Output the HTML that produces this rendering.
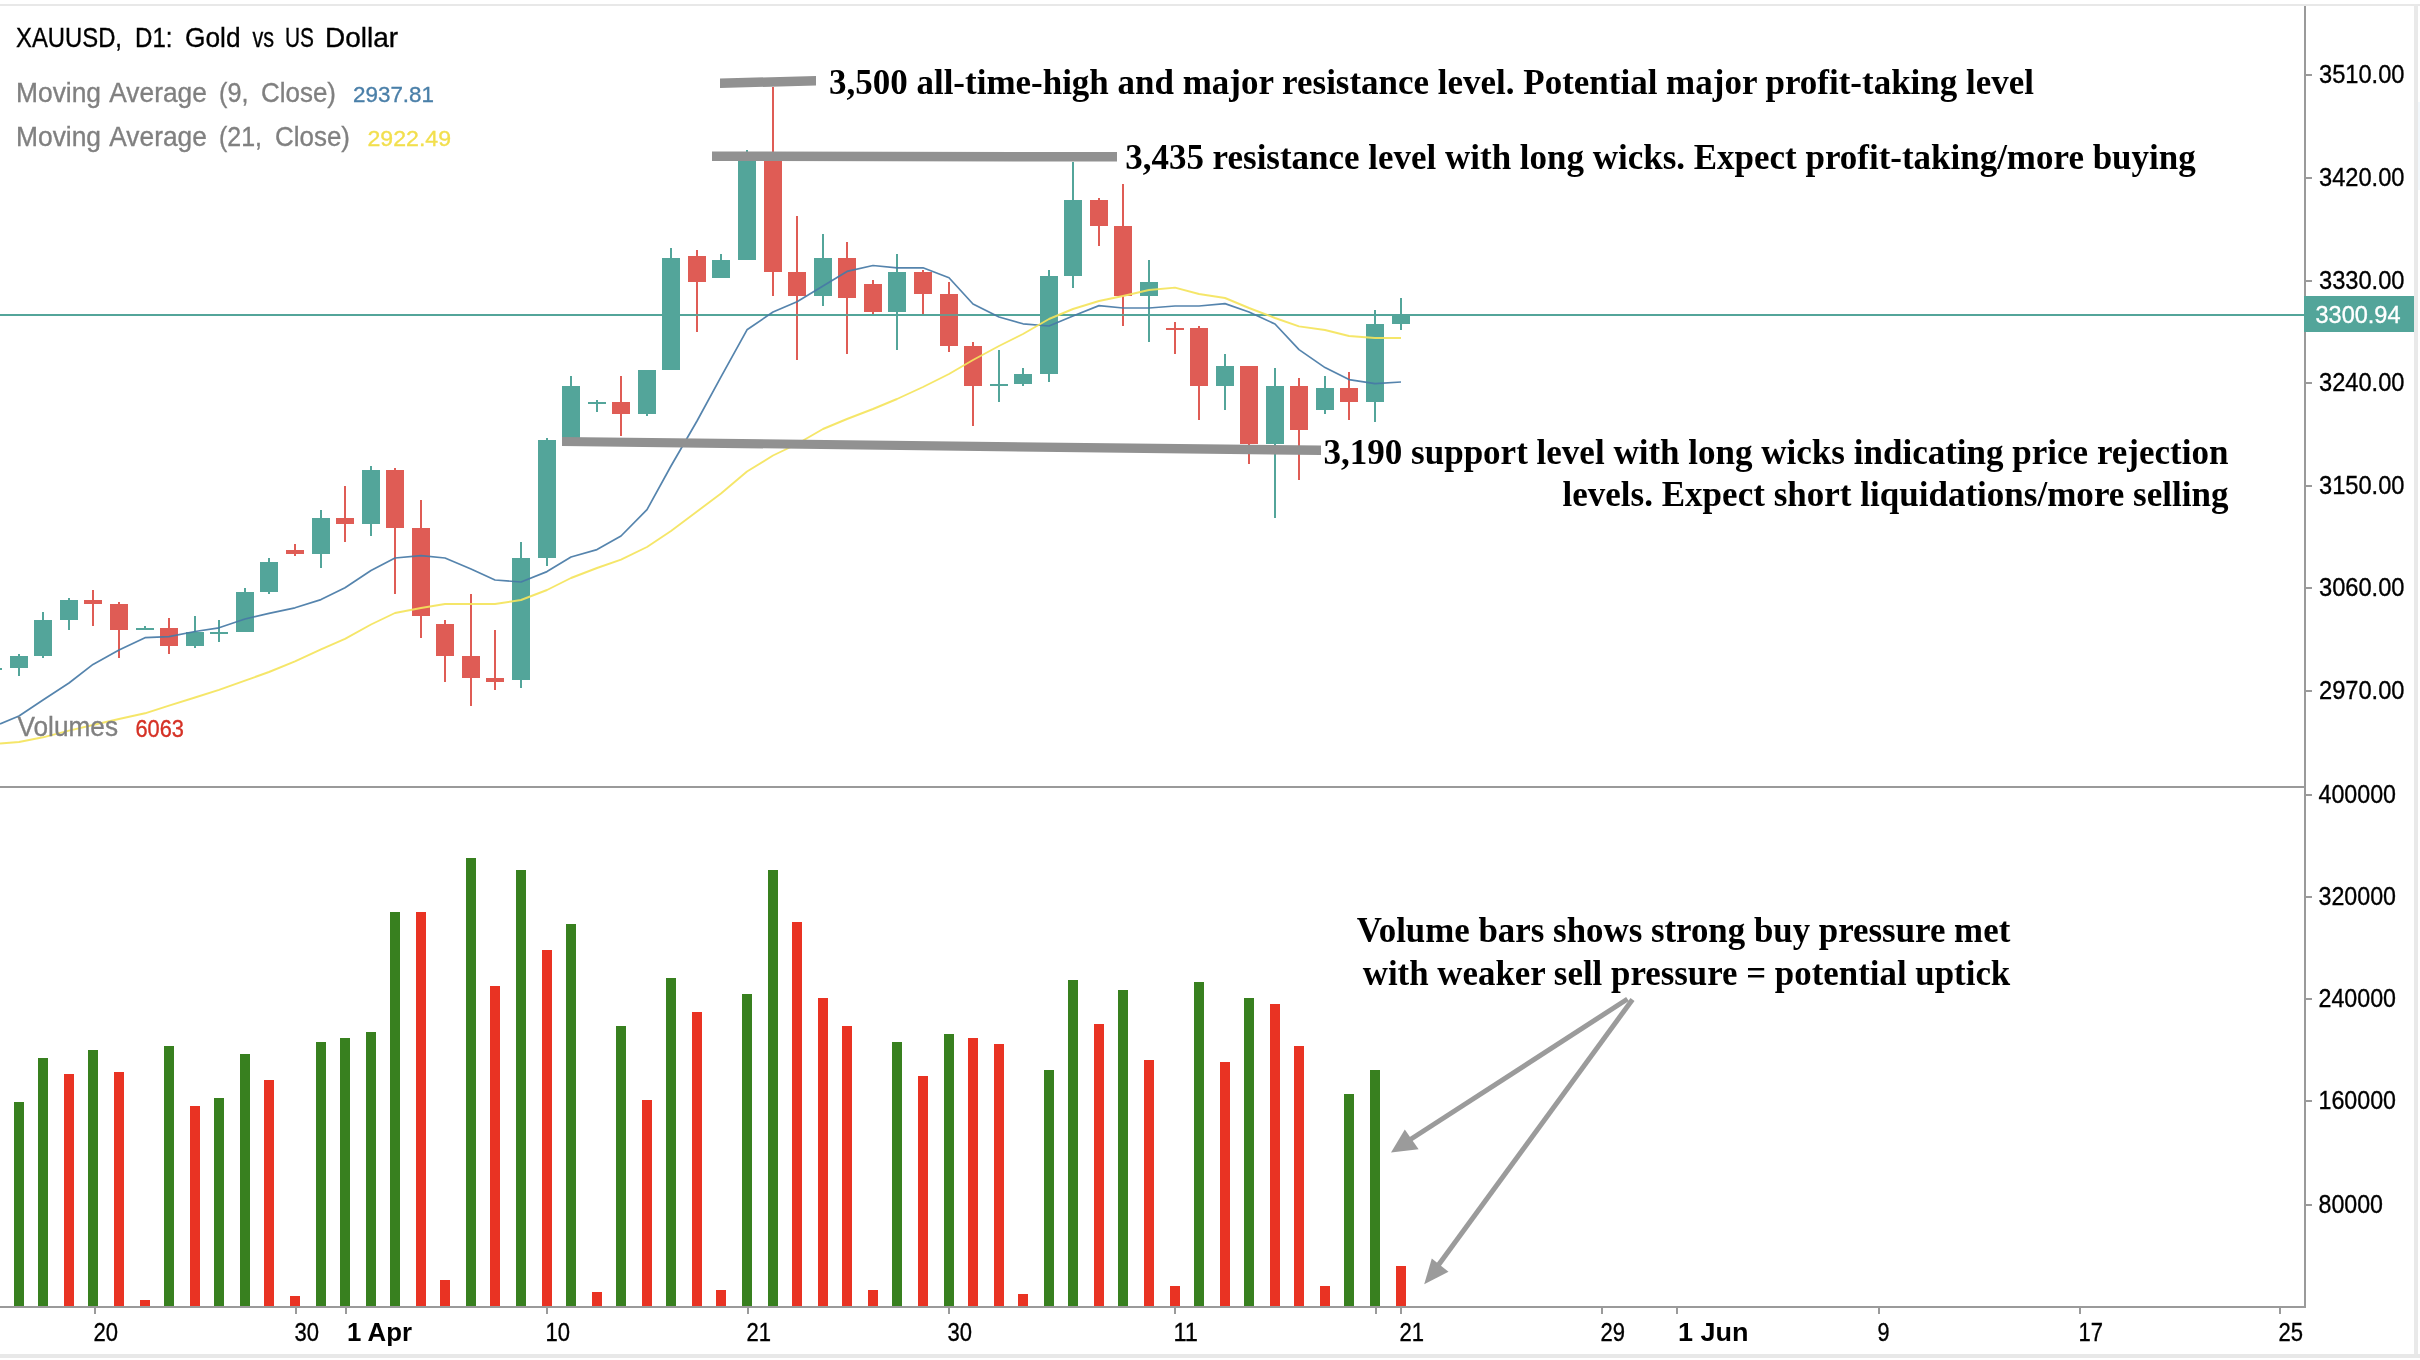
<!DOCTYPE html><html><head><meta charset="utf-8"><title>XAUUSD D1</title>
<style>html,body{margin:0;padding:0;background:#fff;}body{width:2420px;height:1360px;overflow:hidden;position:relative;font-family:"Liberation Sans",sans-serif;}svg{position:absolute;left:0;top:0;display:block;will-change:transform}text{font-family:"Liberation Sans",sans-serif}.ser{font-family:"Liberation Serif",serif;font-weight:bold}</style>
</head><body>
<svg width="2420" height="1360" viewBox="0 0 2420 1360" shape-rendering="crispEdges">
<rect x="0" y="0" width="2420" height="1360" fill="#ffffff"/>
<rect x="0" y="4" width="2420" height="2" fill="#e8e8e8"/>
<rect x="2414" y="4" width="4" height="1354" fill="#e9e9e9"/>
<rect x="0" y="1354" width="2420" height="4" fill="#e8e8e8"/>
<rect x="2418" y="102" width="2" height="88" fill="#f3f8fc"/>
<rect x="0" y="314" width="2304" height="2" fill="#53a59a"/>
<rect x="14" y="1102" width="10" height="204" fill="#38801f"/>
<rect x="38" y="1058" width="10" height="248" fill="#38801f"/>
<rect x="64" y="1074" width="10" height="232" fill="#e93323"/>
<rect x="88" y="1050" width="10" height="256" fill="#38801f"/>
<rect x="114" y="1072" width="10" height="234" fill="#e93323"/>
<rect x="140" y="1300" width="10" height="6" fill="#e93323"/>
<rect x="164" y="1046" width="10" height="260" fill="#38801f"/>
<rect x="190" y="1106" width="10" height="200" fill="#e93323"/>
<rect x="214" y="1098" width="10" height="208" fill="#38801f"/>
<rect x="240" y="1054" width="10" height="252" fill="#38801f"/>
<rect x="264" y="1080" width="10" height="226" fill="#e93323"/>
<rect x="290" y="1296" width="10" height="10" fill="#e93323"/>
<rect x="316" y="1042" width="10" height="264" fill="#38801f"/>
<rect x="340" y="1038" width="10" height="268" fill="#38801f"/>
<rect x="366" y="1032" width="10" height="274" fill="#38801f"/>
<rect x="390" y="912" width="10" height="394" fill="#38801f"/>
<rect x="416" y="912" width="10" height="394" fill="#e93323"/>
<rect x="440" y="1280" width="10" height="26" fill="#e93323"/>
<rect x="466" y="858" width="10" height="448" fill="#38801f"/>
<rect x="490" y="986" width="10" height="320" fill="#e93323"/>
<rect x="516" y="870" width="10" height="436" fill="#38801f"/>
<rect x="542" y="950" width="10" height="356" fill="#e93323"/>
<rect x="566" y="924" width="10" height="382" fill="#38801f"/>
<rect x="592" y="1292" width="10" height="14" fill="#e93323"/>
<rect x="616" y="1026" width="10" height="280" fill="#38801f"/>
<rect x="642" y="1100" width="10" height="206" fill="#e93323"/>
<rect x="666" y="978" width="10" height="328" fill="#38801f"/>
<rect x="692" y="1012" width="10" height="294" fill="#e93323"/>
<rect x="716" y="1290" width="10" height="16" fill="#e93323"/>
<rect x="742" y="994" width="10" height="312" fill="#38801f"/>
<rect x="768" y="870" width="10" height="436" fill="#38801f"/>
<rect x="792" y="922" width="10" height="384" fill="#e93323"/>
<rect x="818" y="998" width="10" height="308" fill="#e93323"/>
<rect x="842" y="1026" width="10" height="280" fill="#e93323"/>
<rect x="868" y="1290" width="10" height="16" fill="#e93323"/>
<rect x="892" y="1042" width="10" height="264" fill="#38801f"/>
<rect x="918" y="1076" width="10" height="230" fill="#e93323"/>
<rect x="944" y="1034" width="10" height="272" fill="#38801f"/>
<rect x="968" y="1038" width="10" height="268" fill="#e93323"/>
<rect x="994" y="1044" width="10" height="262" fill="#e93323"/>
<rect x="1018" y="1294" width="10" height="12" fill="#e93323"/>
<rect x="1044" y="1070" width="10" height="236" fill="#38801f"/>
<rect x="1068" y="980" width="10" height="326" fill="#38801f"/>
<rect x="1094" y="1024" width="10" height="282" fill="#e93323"/>
<rect x="1118" y="990" width="10" height="316" fill="#38801f"/>
<rect x="1144" y="1060" width="10" height="246" fill="#e93323"/>
<rect x="1170" y="1286" width="10" height="20" fill="#e93323"/>
<rect x="1194" y="982" width="10" height="324" fill="#38801f"/>
<rect x="1220" y="1062" width="10" height="244" fill="#e93323"/>
<rect x="1244" y="998" width="10" height="308" fill="#38801f"/>
<rect x="1270" y="1004" width="10" height="302" fill="#e93323"/>
<rect x="1294" y="1046" width="10" height="260" fill="#e93323"/>
<rect x="1320" y="1286" width="10" height="20" fill="#e93323"/>
<rect x="1344" y="1094" width="10" height="212" fill="#38801f"/>
<rect x="1370" y="1070" width="10" height="236" fill="#38801f"/>
<rect x="1396" y="1266" width="10" height="40" fill="#e93323"/>
<rect x="0" y="668" width="2" height="2" fill="#53a59a"/>
<rect x="18" y="654" width="2" height="22" fill="#53a59a"/>
<rect x="10" y="656" width="18" height="12" fill="#53a59a"/>
<rect x="42" y="612" width="2" height="46" fill="#53a59a"/>
<rect x="34" y="620" width="18" height="36" fill="#53a59a"/>
<rect x="68" y="598" width="2" height="32" fill="#53a59a"/>
<rect x="60" y="600" width="18" height="20" fill="#53a59a"/>
<rect x="92" y="590" width="2" height="36" fill="#df5c55"/>
<rect x="84" y="600" width="18" height="4" fill="#df5c55"/>
<rect x="118" y="602" width="2" height="56" fill="#df5c55"/>
<rect x="110" y="604" width="18" height="26" fill="#df5c55"/>
<rect x="144" y="626" width="2" height="4" fill="#53a59a"/>
<rect x="136" y="628" width="18" height="2" fill="#53a59a"/>
<rect x="168" y="618" width="2" height="36" fill="#df5c55"/>
<rect x="160" y="628" width="18" height="18" fill="#df5c55"/>
<rect x="194" y="616" width="2" height="32" fill="#53a59a"/>
<rect x="186" y="632" width="18" height="14" fill="#53a59a"/>
<rect x="218" y="620" width="2" height="22" fill="#53a59a"/>
<rect x="210" y="632" width="18" height="2" fill="#53a59a"/>
<rect x="244" y="588" width="2" height="44" fill="#53a59a"/>
<rect x="236" y="592" width="18" height="40" fill="#53a59a"/>
<rect x="268" y="558" width="2" height="36" fill="#53a59a"/>
<rect x="260" y="562" width="18" height="30" fill="#53a59a"/>
<rect x="294" y="544" width="2" height="12" fill="#df5c55"/>
<rect x="286" y="550" width="18" height="4" fill="#df5c55"/>
<rect x="320" y="510" width="2" height="58" fill="#53a59a"/>
<rect x="312" y="518" width="18" height="36" fill="#53a59a"/>
<rect x="344" y="486" width="2" height="56" fill="#df5c55"/>
<rect x="336" y="518" width="18" height="6" fill="#df5c55"/>
<rect x="370" y="466" width="2" height="70" fill="#53a59a"/>
<rect x="362" y="470" width="18" height="54" fill="#53a59a"/>
<rect x="394" y="468" width="2" height="126" fill="#df5c55"/>
<rect x="386" y="470" width="18" height="58" fill="#df5c55"/>
<rect x="420" y="500" width="2" height="138" fill="#df5c55"/>
<rect x="412" y="528" width="18" height="88" fill="#df5c55"/>
<rect x="444" y="620" width="2" height="62" fill="#df5c55"/>
<rect x="436" y="624" width="18" height="32" fill="#df5c55"/>
<rect x="470" y="594" width="2" height="112" fill="#df5c55"/>
<rect x="462" y="656" width="18" height="22" fill="#df5c55"/>
<rect x="494" y="630" width="2" height="60" fill="#df5c55"/>
<rect x="486" y="678" width="18" height="4" fill="#df5c55"/>
<rect x="520" y="542" width="2" height="146" fill="#53a59a"/>
<rect x="512" y="558" width="18" height="122" fill="#53a59a"/>
<rect x="546" y="438" width="2" height="128" fill="#53a59a"/>
<rect x="538" y="440" width="18" height="118" fill="#53a59a"/>
<rect x="570" y="376" width="2" height="64" fill="#53a59a"/>
<rect x="562" y="386" width="18" height="54" fill="#53a59a"/>
<rect x="596" y="400" width="2" height="12" fill="#53a59a"/>
<rect x="588" y="402" width="18" height="2" fill="#53a59a"/>
<rect x="620" y="376" width="2" height="60" fill="#df5c55"/>
<rect x="612" y="402" width="18" height="12" fill="#df5c55"/>
<rect x="646" y="370" width="2" height="46" fill="#53a59a"/>
<rect x="638" y="370" width="18" height="44" fill="#53a59a"/>
<rect x="670" y="248" width="2" height="122" fill="#53a59a"/>
<rect x="662" y="258" width="18" height="112" fill="#53a59a"/>
<rect x="696" y="250" width="2" height="82" fill="#df5c55"/>
<rect x="688" y="256" width="18" height="26" fill="#df5c55"/>
<rect x="720" y="254" width="2" height="24" fill="#53a59a"/>
<rect x="712" y="260" width="18" height="18" fill="#53a59a"/>
<rect x="746" y="150" width="2" height="110" fill="#53a59a"/>
<rect x="738" y="156" width="18" height="104" fill="#53a59a"/>
<rect x="772" y="87" width="2" height="209" fill="#df5c55"/>
<rect x="764" y="156" width="18" height="116" fill="#df5c55"/>
<rect x="796" y="216" width="2" height="144" fill="#df5c55"/>
<rect x="788" y="272" width="18" height="24" fill="#df5c55"/>
<rect x="822" y="234" width="2" height="72" fill="#53a59a"/>
<rect x="814" y="258" width="18" height="38" fill="#53a59a"/>
<rect x="846" y="242" width="2" height="112" fill="#df5c55"/>
<rect x="838" y="258" width="18" height="40" fill="#df5c55"/>
<rect x="872" y="280" width="2" height="34" fill="#df5c55"/>
<rect x="864" y="284" width="18" height="28" fill="#df5c55"/>
<rect x="896" y="254" width="2" height="96" fill="#53a59a"/>
<rect x="888" y="272" width="18" height="40" fill="#53a59a"/>
<rect x="922" y="270" width="2" height="44" fill="#df5c55"/>
<rect x="914" y="272" width="18" height="22" fill="#df5c55"/>
<rect x="948" y="282" width="2" height="70" fill="#df5c55"/>
<rect x="940" y="294" width="18" height="52" fill="#df5c55"/>
<rect x="972" y="342" width="2" height="84" fill="#df5c55"/>
<rect x="964" y="346" width="18" height="40" fill="#df5c55"/>
<rect x="998" y="350" width="2" height="52" fill="#53a59a"/>
<rect x="990" y="384" width="18" height="2" fill="#53a59a"/>
<rect x="1022" y="368" width="2" height="18" fill="#53a59a"/>
<rect x="1014" y="374" width="18" height="10" fill="#53a59a"/>
<rect x="1048" y="270" width="2" height="112" fill="#53a59a"/>
<rect x="1040" y="276" width="18" height="98" fill="#53a59a"/>
<rect x="1072" y="162" width="2" height="126" fill="#53a59a"/>
<rect x="1064" y="200" width="18" height="76" fill="#53a59a"/>
<rect x="1098" y="198" width="2" height="48" fill="#df5c55"/>
<rect x="1090" y="200" width="18" height="26" fill="#df5c55"/>
<rect x="1122" y="184" width="2" height="142" fill="#df5c55"/>
<rect x="1114" y="226" width="18" height="70" fill="#df5c55"/>
<rect x="1148" y="260" width="2" height="82" fill="#53a59a"/>
<rect x="1140" y="282" width="18" height="14" fill="#53a59a"/>
<rect x="1174" y="322" width="2" height="32" fill="#df5c55"/>
<rect x="1166" y="328" width="18" height="2" fill="#df5c55"/>
<rect x="1198" y="326" width="2" height="94" fill="#df5c55"/>
<rect x="1190" y="328" width="18" height="58" fill="#df5c55"/>
<rect x="1224" y="354" width="2" height="56" fill="#53a59a"/>
<rect x="1216" y="366" width="18" height="20" fill="#53a59a"/>
<rect x="1248" y="366" width="2" height="98" fill="#df5c55"/>
<rect x="1240" y="366" width="18" height="78" fill="#df5c55"/>
<rect x="1274" y="368" width="2" height="150" fill="#53a59a"/>
<rect x="1266" y="386" width="18" height="58" fill="#53a59a"/>
<rect x="1298" y="378" width="2" height="102" fill="#df5c55"/>
<rect x="1290" y="386" width="18" height="44" fill="#df5c55"/>
<rect x="1324" y="376" width="2" height="38" fill="#53a59a"/>
<rect x="1316" y="388" width="18" height="22" fill="#53a59a"/>
<rect x="1348" y="372" width="2" height="48" fill="#df5c55"/>
<rect x="1340" y="388" width="18" height="14" fill="#df5c55"/>
<rect x="1374" y="310" width="2" height="112" fill="#53a59a"/>
<rect x="1366" y="324" width="18" height="78" fill="#53a59a"/>
<rect x="1400" y="298" width="2" height="32" fill="#53a59a"/>
<rect x="1392" y="314" width="18" height="10" fill="#53a59a"/>
<rect x="0" y="314" width="2304" height="2" fill="#53a59a" fill-opacity="0.75"/>
</svg>
<svg width="2420" height="1360" viewBox="0 0 2420 1360">
<polyline points="0,724 19,716 43,700 69,683 93,664.4 119,650 145,637.7 169,636.6 195,631.5 219,627.8 245,619 269,613.4 295,607.8 321,599.6 345,587.8 371,570.5 395,558 421,555.6 445,558 471,569 495,580 521,582 547,571.6 571,557 597,549.6 621,536 647,509.6 671,466 697,421 721,376.8 747,329.8 773,312 797,301.7 823,286 847,271.4 873,265.5 897,267.8 923,267.8 949,277.8 973,304 999,317 1023,323.8 1049,326 1073,316 1099,305.6 1123,308 1149,308 1175,306 1199,306 1225,303.6 1249,312 1275,324 1299,349.6 1325,367.6 1349,379.6 1375,383.6 1401,382" fill="none" stroke="#467aa6" stroke-width="1.7" stroke-linejoin="round" stroke-opacity="0.92"/>
<polyline points="0,743.5 19,742 43,737.3 69,730.7 93,725 119,719 145,713.3 169,705.6 195,697.5 219,689.8 245,680.6 269,672 295,661.3 321,649.3 345,638.8 371,624.5 395,613 421,608 445,604 471,604 495,604 521,600 547,590 571,578 597,568 621,559.6 647,547 671,531 697,511.5 721,493.5 747,471.5 773,455.5 797,444 823,429 847,419 873,409 897,399 923,387 949,374 973,360 999,346 1023,334 1049,319 1073,309 1099,301 1123,296 1149,290 1175,287.6 1199,294 1225,298 1249,308 1275,318 1299,326.4 1325,330 1349,336 1375,338 1401,338" fill="none" stroke="#f4e45c" stroke-width="1.9" stroke-linejoin="round" stroke-opacity="0.92"/>
<polygon points="720,78.5 816,76 816,85.5 720,88" fill="#919191"/>
<polygon points="712,151.5 1117,152 1117,161.6 712,161" fill="#919191"/>
<polygon points="562,437 1321,445.6 1321,455 562,446" fill="#919191"/>
<line x1="1627.5" y1="999" x2="1408" y2="1141" stroke="#9b9b9b" stroke-width="5"/>
<polygon points="1391,1152.4 1404.8,1129.4 1418.6,1149.3" fill="#9b9b9b"/>
<line x1="1632.5" y1="999.5" x2="1437" y2="1267" stroke="#9b9b9b" stroke-width="5"/>
<polygon points="1424.2,1284.2 1431.8,1258.6 1448.5,1271.8" fill="#9b9b9b"/>
</svg>
<svg width="2420" height="1360" viewBox="0 0 2420 1360" shape-rendering="crispEdges">
<rect x="2304" y="6" width="2" height="1302" fill="#9a9a9a"/>
<rect x="0" y="1306" width="2306" height="2" fill="#9a9a9a"/>
<rect x="0" y="786" width="2304" height="2" fill="#9a9a9a"/>
<rect x="2306" y="74" width="6" height="2" fill="#9a9a9a"/>
<rect x="2306" y="177" width="6" height="2" fill="#9a9a9a"/>
<rect x="2306" y="280" width="6" height="2" fill="#9a9a9a"/>
<rect x="2306" y="382" width="6" height="2" fill="#9a9a9a"/>
<rect x="2306" y="485" width="6" height="2" fill="#9a9a9a"/>
<rect x="2306" y="587" width="6" height="2" fill="#9a9a9a"/>
<rect x="2306" y="690" width="6" height="2" fill="#9a9a9a"/>
<rect x="2306" y="794" width="6" height="2" fill="#9a9a9a"/>
<rect x="2306" y="896" width="6" height="2" fill="#9a9a9a"/>
<rect x="2306" y="998" width="6" height="2" fill="#9a9a9a"/>
<rect x="2306" y="1100" width="6" height="2" fill="#9a9a9a"/>
<rect x="2306" y="1204" width="6" height="2" fill="#9a9a9a"/>
<rect x="94" y="1308" width="2" height="6" fill="#9a9a9a"/>
<rect x="295" y="1308" width="2" height="6" fill="#9a9a9a"/>
<rect x="345" y="1308" width="2" height="6" fill="#9a9a9a"/>
<rect x="546" y="1308" width="2" height="6" fill="#9a9a9a"/>
<rect x="747" y="1308" width="2" height="6" fill="#9a9a9a"/>
<rect x="948" y="1308" width="2" height="6" fill="#9a9a9a"/>
<rect x="1174" y="1308" width="2" height="6" fill="#9a9a9a"/>
<rect x="1375" y="1308" width="2" height="6" fill="#9a9a9a"/>
<rect x="1400" y="1308" width="2" height="6" fill="#9a9a9a"/>
<rect x="1601" y="1308" width="2" height="6" fill="#9a9a9a"/>
<rect x="1676" y="1308" width="2" height="6" fill="#9a9a9a"/>
<rect x="1878" y="1308" width="2" height="6" fill="#9a9a9a"/>
<rect x="2079" y="1308" width="2" height="6" fill="#9a9a9a"/>
<rect x="2279" y="1308" width="2" height="6" fill="#9a9a9a"/>
<rect x="2304" y="296" width="110" height="36" fill="#53a59a"/>
</svg>
<svg width="2420" height="1360" viewBox="0 0 2420 1360">
<text x="2319" y="83" font-size="25" fill="#000" text-anchor="start" textLength="85.5" lengthAdjust="spacingAndGlyphs" stroke="#000" stroke-width="0.35">3510.00</text>
<text x="2319" y="186" font-size="25" fill="#000" text-anchor="start" textLength="85.5" lengthAdjust="spacingAndGlyphs" stroke="#000" stroke-width="0.35">3420.00</text>
<text x="2319" y="289" font-size="25" fill="#000" text-anchor="start" textLength="85.5" lengthAdjust="spacingAndGlyphs" stroke="#000" stroke-width="0.35">3330.00</text>
<text x="2319" y="391" font-size="25" fill="#000" text-anchor="start" textLength="85.5" lengthAdjust="spacingAndGlyphs" stroke="#000" stroke-width="0.35">3240.00</text>
<text x="2319" y="494" font-size="25" fill="#000" text-anchor="start" textLength="85.5" lengthAdjust="spacingAndGlyphs" stroke="#000" stroke-width="0.35">3150.00</text>
<text x="2319" y="596" font-size="25" fill="#000" text-anchor="start" textLength="85.5" lengthAdjust="spacingAndGlyphs" stroke="#000" stroke-width="0.35">3060.00</text>
<text x="2319" y="699" font-size="25" fill="#000" text-anchor="start" textLength="85.5" lengthAdjust="spacingAndGlyphs" stroke="#000" stroke-width="0.35">2970.00</text>
<text x="2318.5" y="803" font-size="25" fill="#000" text-anchor="start" textLength="77.5" lengthAdjust="spacingAndGlyphs" stroke="#000" stroke-width="0.35">400000</text>
<text x="2318.5" y="905" font-size="25" fill="#000" text-anchor="start" textLength="77.5" lengthAdjust="spacingAndGlyphs" stroke="#000" stroke-width="0.35">320000</text>
<text x="2318.5" y="1007" font-size="25" fill="#000" text-anchor="start" textLength="77.5" lengthAdjust="spacingAndGlyphs" stroke="#000" stroke-width="0.35">240000</text>
<text x="2318.5" y="1109" font-size="25" fill="#000" text-anchor="start" textLength="77.5" lengthAdjust="spacingAndGlyphs" stroke="#000" stroke-width="0.35">160000</text>
<text x="2318.5" y="1213" font-size="25" fill="#000" text-anchor="start" textLength="64.5" lengthAdjust="spacingAndGlyphs" stroke="#000" stroke-width="0.35">80000</text>
<text x="2315.5" y="323" font-size="24.5" fill="#fff" text-anchor="start" textLength="85" lengthAdjust="spacingAndGlyphs" stroke="#fff" stroke-width="0.35">3300.94</text>
<text x="93.5" y="1341" font-size="25" fill="#000" text-anchor="start" textLength="24.5" lengthAdjust="spacingAndGlyphs" stroke="#000" stroke-width="0.35">20</text>
<text x="294.5" y="1341" font-size="25" fill="#000" text-anchor="start" textLength="24.5" lengthAdjust="spacingAndGlyphs" stroke="#000" stroke-width="0.35">30</text>
<text x="347" y="1341" font-size="25" fill="#000" text-anchor="start" textLength="65" lengthAdjust="spacingAndGlyphs" font-weight="bold">1 Apr</text>
<text x="545.5" y="1341" font-size="25" fill="#000" text-anchor="start" textLength="24.5" lengthAdjust="spacingAndGlyphs" stroke="#000" stroke-width="0.35">10</text>
<text x="746.5" y="1341" font-size="25" fill="#000" text-anchor="start" textLength="24.5" lengthAdjust="spacingAndGlyphs" stroke="#000" stroke-width="0.35">21</text>
<text x="947.5" y="1341" font-size="25" fill="#000" text-anchor="start" textLength="24.5" lengthAdjust="spacingAndGlyphs" stroke="#000" stroke-width="0.35">30</text>
<text x="1173.5" y="1341" font-size="25" fill="#000" text-anchor="start" textLength="24.5" lengthAdjust="spacingAndGlyphs" stroke="#000" stroke-width="0.35">11</text>
<text x="1399.5" y="1341" font-size="25" fill="#000" text-anchor="start" textLength="24.5" lengthAdjust="spacingAndGlyphs" stroke="#000" stroke-width="0.35">21</text>
<text x="1600.5" y="1341" font-size="25" fill="#000" text-anchor="start" textLength="24.5" lengthAdjust="spacingAndGlyphs" stroke="#000" stroke-width="0.35">29</text>
<text x="1678" y="1341" font-size="25" fill="#000" text-anchor="start" textLength="70.5" lengthAdjust="spacingAndGlyphs" font-weight="bold">1 Jun</text>
<text x="1877.5" y="1341" font-size="25" fill="#000" text-anchor="start" textLength="12" lengthAdjust="spacingAndGlyphs" stroke="#000" stroke-width="0.35">9</text>
<text x="2078.5" y="1341" font-size="25" fill="#000" text-anchor="start" textLength="24.5" lengthAdjust="spacingAndGlyphs" stroke="#000" stroke-width="0.35">17</text>
<text x="2278.5" y="1341" font-size="25" fill="#000" text-anchor="start" textLength="24.5" lengthAdjust="spacingAndGlyphs" stroke="#000" stroke-width="0.35">25</text>
<text x="16" y="47.3" font-size="27.5" fill="#000" text-anchor="start" textLength="106" lengthAdjust="spacingAndGlyphs" stroke="#000" stroke-width="0.35">XAUUSD,</text>
<text x="135" y="47.3" font-size="27.5" fill="#000" text-anchor="start" textLength="37.5" lengthAdjust="spacingAndGlyphs" stroke="#000" stroke-width="0.35">D1:</text>
<text x="185" y="47.3" font-size="27.5" fill="#000" text-anchor="start" textLength="55.5" lengthAdjust="spacingAndGlyphs" stroke="#000" stroke-width="0.35">Gold</text>
<text x="252.4" y="47.3" font-size="27.5" fill="#000" text-anchor="start" textLength="21.599999999999994" lengthAdjust="spacingAndGlyphs" stroke="#000" stroke-width="0.35">vs</text>
<text x="285" y="47.3" font-size="27.5" fill="#000" text-anchor="start" textLength="29" lengthAdjust="spacingAndGlyphs" stroke="#000" stroke-width="0.35">US</text>
<text x="325" y="47.3" font-size="27.5" fill="#000" text-anchor="start" textLength="73" lengthAdjust="spacingAndGlyphs" stroke="#000" stroke-width="0.35">Dollar</text>
<text x="16" y="102" font-size="27.5" fill="#808080" text-anchor="start" textLength="85" lengthAdjust="spacingAndGlyphs" stroke="#808080" stroke-width="0.35">Moving</text>
<text x="109.3" y="102" font-size="27.5" fill="#808080" text-anchor="start" textLength="97.50000000000001" lengthAdjust="spacingAndGlyphs" stroke="#808080" stroke-width="0.35">Average</text>
<text x="219" y="102" font-size="27.5" fill="#808080" text-anchor="start" textLength="29.5" lengthAdjust="spacingAndGlyphs" stroke="#808080" stroke-width="0.35">(9,</text>
<text x="261" y="102" font-size="27.5" fill="#808080" text-anchor="start" textLength="75" lengthAdjust="spacingAndGlyphs" stroke="#808080" stroke-width="0.35">Close)</text>
<text x="353" y="102.3" font-size="22.4" fill="#4a7fa8" text-anchor="start" textLength="81" lengthAdjust="spacingAndGlyphs" stroke="#4a7fa8" stroke-width="0.35">2937.81</text>
<text x="16" y="146" font-size="27.5" fill="#808080" text-anchor="start" textLength="85" lengthAdjust="spacingAndGlyphs" stroke="#808080" stroke-width="0.35">Moving</text>
<text x="109.3" y="146" font-size="27.5" fill="#808080" text-anchor="start" textLength="97.50000000000001" lengthAdjust="spacingAndGlyphs" stroke="#808080" stroke-width="0.35">Average</text>
<text x="219" y="146" font-size="27.5" fill="#808080" text-anchor="start" textLength="43" lengthAdjust="spacingAndGlyphs" stroke="#808080" stroke-width="0.35">(21,</text>
<text x="275" y="146" font-size="27.5" fill="#808080" text-anchor="start" textLength="75" lengthAdjust="spacingAndGlyphs" stroke="#808080" stroke-width="0.35">Close)</text>
<text x="367.5" y="146.3" font-size="22.4" fill="#f2df4e" text-anchor="start" textLength="83.5" lengthAdjust="spacingAndGlyphs" stroke="#f2df4e" stroke-width="0.35">2922.49</text>
<text x="17.5" y="735.8" font-size="28.5" fill="#808080" text-anchor="start" textLength="100.5" lengthAdjust="spacingAndGlyphs" stroke="#808080" stroke-width="0.35">Volumes</text>
<text x="135.5" y="736.6" font-size="23.5" fill="#d53125" text-anchor="start" textLength="48.5" lengthAdjust="spacingAndGlyphs" stroke="#d53125" stroke-width="0.35">6063</text>
<text x="829" y="94" font-size="35" fill="#000" text-anchor="start" textLength="1205" lengthAdjust="spacingAndGlyphs" class="ser">3,500 all-time-high and major resistance level. Potential major profit-taking level</text>
<text x="1125.2" y="169" font-size="35" fill="#000" text-anchor="start" textLength="1070.5" lengthAdjust="spacingAndGlyphs" class="ser">3,435 resistance level with long wicks. Expect profit-taking/more buying</text>
<text x="2228.5" y="464.2" font-size="35" fill="#000" text-anchor="end" textLength="905" lengthAdjust="spacingAndGlyphs" class="ser">3,190 support level with long wicks indicating price rejection</text>
<text x="2228.5" y="506.4" font-size="35" fill="#000" text-anchor="end" textLength="666" lengthAdjust="spacingAndGlyphs" class="ser">levels. Expect short liquidations/more selling</text>
<text x="1683.5" y="942.3" font-size="35" fill="#000" text-anchor="middle" textLength="653.5" lengthAdjust="spacingAndGlyphs" class="ser">Volume bars shows strong buy pressure met</text>
<text x="1686.5" y="984.6" font-size="35" fill="#000" text-anchor="middle" textLength="647.5" lengthAdjust="spacingAndGlyphs" class="ser">with weaker sell pressure = potential uptick</text>
</svg>
</body></html>
